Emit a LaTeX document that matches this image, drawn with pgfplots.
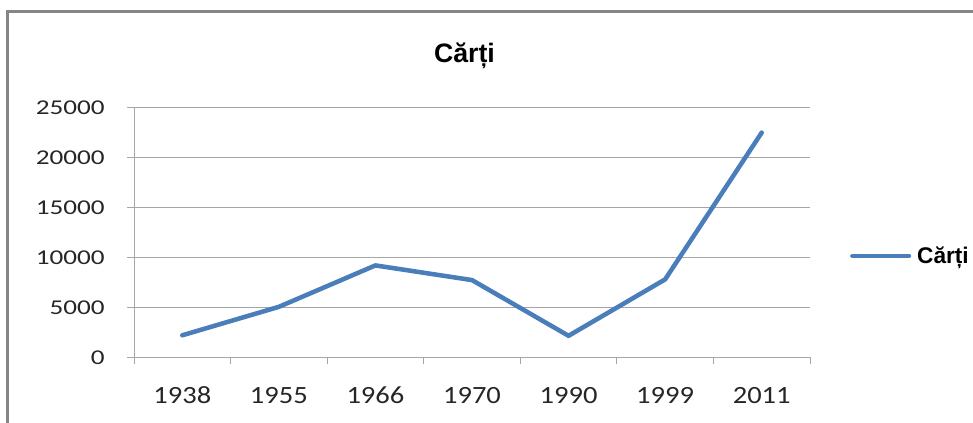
\documentclass[border=0pt]{standalone}
\usepackage{fontspec}
\usepackage{pgfplots}
\pgfplotsset{compat=1.18}
\setmainfont{Carlito}
\newfontfamily\tickxfont[FakeStretch=1.15]{Carlito}
\newfontfamily\tickyfont[FakeStretch=1.29]{Carlito}
\newfontfamily\arial{Liberation Sans}
\definecolor{linecol}{HTML}{4A7EBB}
\definecolor{gridcol}{HTML}{A6A6A6}
\definecolor{framecol}{HTML}{868686}
\definecolor{textcol}{HTML}{262626}
\begin{document}
\begin{tikzpicture}
\useasboundingbox (0pt,0pt) rectangle (729.75pt,317.25pt);
\draw[framecol, line width=1.9pt] (5.6pt,-10pt) -- (5.6pt,308.6pt) -- (740pt,308.6pt);
\node[font=\arial\bfseries\fontsize{20}{24}\selectfont, anchor=base] at (348.4pt,270pt) {Cărți};
\begin{axis}[
  at={(100.5pt,49.3pt)}, anchor=south west,
  scale only axis, width=507pt, height=187.2pt,
  xmin=-0.5, xmax=6.5, ymin=0, ymax=25000,
  axis x line*=bottom, axis y line*=left,
  axis line style={gridcol, line width=0.75pt, -},
  xtick={0,...,6},
  xticklabels={1938,1955,1966,1970,1990,1999,2011},
  minor xtick={-0.5,0.5,...,6.5},
  ytick={0,5000,...,25000},
  scaled y ticks=false,
  ymajorgrids,
  major grid style={gridcol, line width=0.75pt},
  tick align=outside,
  major x tick style={draw=none},
  major tick length=5.25pt, minor tick length=5.25pt,
  tick style={gridcol, line width=0.75pt},
  /pgf/number format/assume math mode=true,
  /pgf/number format/1000 sep={},
  xticklabel style={font=\tickxfont\fontsize{18.6}{22}\selectfont, text=textcol, anchor=base, inner sep=0pt, yshift=-29.2pt},
  yticklabel style={font=\tickyfont\fontsize{15.8}{19}\selectfont, text=textcol, anchor=east, inner sep=0pt, xshift=-16.5pt},
  clip=false,
  legend style={draw=none, fill=none, at={(1.059,0.406)}, anchor=west, inner sep=0pt,
    font=\arial\bfseries\fontsize{17}{20}\selectfont, text=black,
    nodes={inner sep=4.5pt}},
  legend image code/.code={\draw[#1, line width=3pt, line cap=round] (0pt,0pt) -- (42.75pt,0pt);},
]
\addplot[linecol, line width=3.4pt, line join=round, line cap=round] coordinates {
  (0,2200) (1,5050) (2,9200) (3,7730) (4,2150) (5,7800) (6,22500)
};
\addlegendentry{Cărți}
\end{axis}
\end{tikzpicture}
\end{document}
